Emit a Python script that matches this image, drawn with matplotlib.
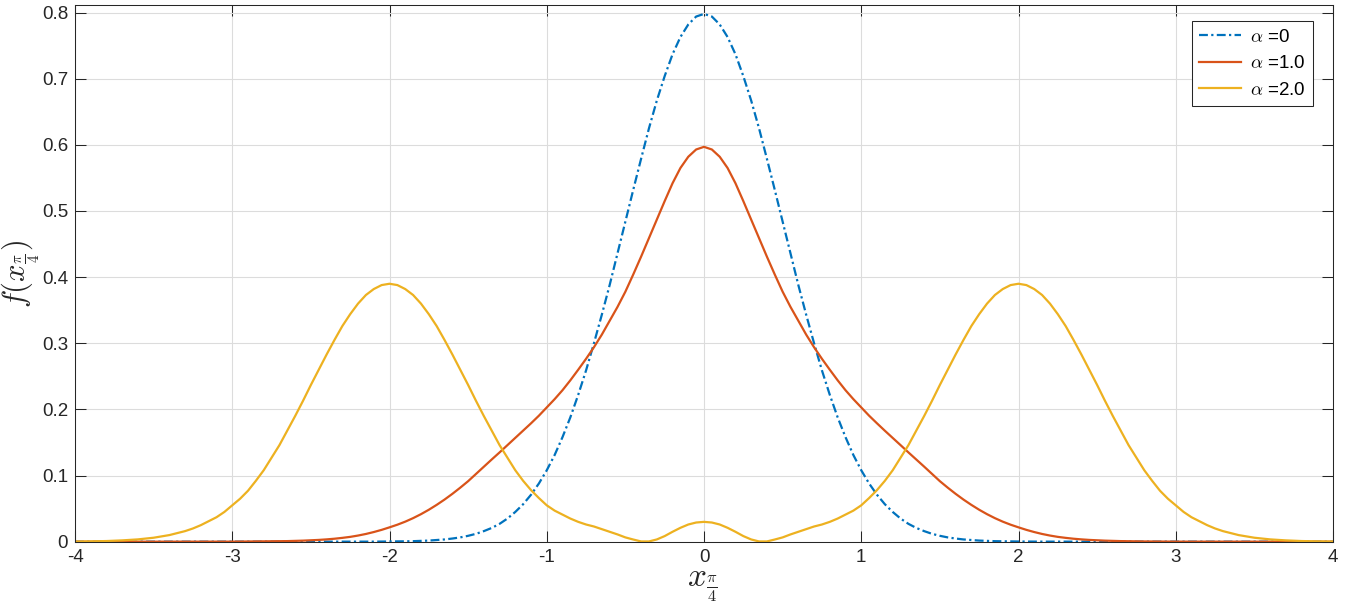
import matplotlib
matplotlib.use("Agg")
import matplotlib.pyplot as plt

plt.rcParams['font.family'] = ['Liberation Sans', 'DejaVu Sans']
plt.rcParams['mathtext.fontset'] = 'cm'
plt.rcParams['axes.unicode_minus'] = False

# sample positions (x_{pi/4})
x = [-4.00, -3.95, -3.90, -3.85, -3.80, -3.75, -3.70, -3.65, -3.60, -3.55,
     -3.50, -3.45, -3.40, -3.35, -3.30, -3.25, -3.20, -3.15, -3.10, -3.05,
     -3.00, -2.95, -2.90, -2.85, -2.80, -2.75, -2.70, -2.65, -2.60, -2.55,
     -2.50, -2.45, -2.40, -2.35, -2.30, -2.25, -2.20, -2.15, -2.10, -2.05,
     -2.00, -1.95, -1.90, -1.85, -1.80, -1.75, -1.70, -1.65, -1.60, -1.55,
     -1.50, -1.45, -1.40, -1.35, -1.30, -1.25, -1.20, -1.15, -1.10, -1.05,
     -1.00, -0.95, -0.90, -0.85, -0.80, -0.75, -0.70, -0.65, -0.60, -0.55,
     -0.50, -0.45, -0.40, -0.35, -0.30, -0.25, -0.20, -0.15, -0.10, -0.05,
     0.00,
     0.05, 0.10, 0.15, 0.20, 0.25, 0.30, 0.35, 0.40, 0.45, 0.50,
     0.55, 0.60, 0.65, 0.70, 0.75, 0.80, 0.85, 0.90, 0.95, 1.00,
     1.05, 1.10, 1.15, 1.20, 1.25, 1.30, 1.35, 1.40, 1.45, 1.50,
     1.55, 1.60, 1.65, 1.70, 1.75, 1.80, 1.85, 1.90, 1.95, 2.00,
     2.05, 2.10, 2.15, 2.20, 2.25, 2.30, 2.35, 2.40, 2.45, 2.50,
     2.55, 2.60, 2.65, 2.70, 2.75, 2.80, 2.85, 2.90, 2.95, 3.00,
     3.05, 3.10, 3.15, 3.20, 3.25, 3.30, 3.35, 3.40, 3.45, 3.50,
     3.55, 3.60, 3.65, 3.70, 3.75, 3.80, 3.85, 3.90, 3.95, 4.00]

# alpha = 0
f_alpha0 = [0, 0, 0, 0, 0, 0, 0, 0, 0, 0,
            0, 0, 0, 0, 0, 0, 0, 0, 0, 0,
            0, 0, 0, 0, 0, 0, 0, 0, 0, 0,
            0, 0, 0, 0, 0.0001, 0.0001, 0.0001, 0.0001, 0.0001, 0.0002,
            0.0003, 0.0004, 0.0006, 0.0008, 0.0012, 0.0017, 0.0025, 0.0034, 0.0048, 0.0065,
            0.0089, 0.0119, 0.016, 0.0208, 0.027, 0.035, 0.045, 0.0567, 0.071, 0.088,
            0.108, 0.131, 0.158, 0.188, 0.222, 0.259, 0.300, 0.343, 0.388, 0.436,
            0.484, 0.532, 0.579, 0.625, 0.667, 0.704, 0.737, 0.763, 0.782, 0.794,
            0.798,
            0.794, 0.782, 0.763, 0.737, 0.704, 0.667, 0.625, 0.579, 0.532, 0.484,
            0.436, 0.388, 0.343, 0.300, 0.259, 0.222, 0.188, 0.158, 0.131, 0.108,
            0.088, 0.071, 0.0567, 0.045, 0.035, 0.027, 0.0208, 0.016, 0.0119, 0.0089,
            0.0065, 0.0048, 0.0034, 0.0025, 0.0017, 0.0012, 0.0008, 0.0006, 0.0004, 0.0003,
            0.0002, 0.0001, 0.0001, 0.0001, 0.0001, 0.0001, 0, 0, 0, 0,
            0, 0, 0, 0, 0, 0, 0, 0, 0, 0,
            0, 0, 0, 0, 0, 0, 0, 0, 0, 0,
            0, 0, 0, 0, 0, 0, 0, 0, 0, 0]

# alpha = 1.0
f_alpha1 = [0, 0, 0, 0, 0, 0, 0, 0, 0, 0,
            0, 0, 0, 0, 0, 0, 0, 0.0001, 0.0001, 0.0001,
            0.0001, 0.0002, 0.0002, 0.0003, 0.0004, 0.0005, 0.0007, 0.0009, 0.0012, 0.0016,
            0.0021, 0.0027, 0.0035, 0.0045, 0.0058, 0.0073, 0.0093, 0.0117, 0.0146, 0.0179,
            0.0217, 0.0257, 0.0303, 0.0356, 0.0416, 0.0483, 0.0557, 0.0637, 0.0724, 0.0817,
            0.0915, 0.1025, 0.1135, 0.1243, 0.135, 0.146, 0.157, 0.1678, 0.179, 0.1905,
            0.203, 0.2155, 0.229, 0.244, 0.260, 0.2765, 0.294, 0.313, 0.334, 0.355,
            0.378, 0.404, 0.431, 0.459, 0.487, 0.515, 0.542, 0.565, 0.582, 0.593,
            0.597,
            0.593, 0.582, 0.565, 0.542, 0.515, 0.487, 0.459, 0.431, 0.404, 0.378,
            0.355, 0.334, 0.313, 0.294, 0.2765, 0.260, 0.244, 0.229, 0.2155, 0.203,
            0.1905, 0.179, 0.1678, 0.157, 0.146, 0.135, 0.1243, 0.1135, 0.1025, 0.0915,
            0.0817, 0.0724, 0.0637, 0.0557, 0.0483, 0.0416, 0.0356, 0.0303, 0.0257, 0.0217,
            0.0179, 0.0146, 0.0117, 0.0093, 0.0073, 0.0058, 0.0045, 0.0035, 0.0027, 0.0021,
            0.0016, 0.0012, 0.0009, 0.0007, 0.0005, 0.0004, 0.0003, 0.0002, 0.0002, 0.0001,
            0.0001, 0.0001, 0.0001, 0, 0, 0, 0, 0, 0, 0,
            0, 0, 0, 0, 0, 0, 0, 0, 0, 0]

# alpha = 2.0
f_alpha2 = [0.0002, 0.0003, 0.0005, 0.0007, 0.001, 0.0015, 0.002, 0.0027, 0.0035, 0.0047,
            0.006, 0.008, 0.010, 0.013, 0.016, 0.020, 0.025, 0.031, 0.037, 0.045,
            0.055, 0.065, 0.077, 0.092, 0.108, 0.127, 0.146, 0.168, 0.190, 0.213,
            0.237, 0.260, 0.283, 0.305, 0.326, 0.344, 0.360, 0.373, 0.382, 0.388,
            0.390, 0.388, 0.382, 0.373, 0.360, 0.344, 0.326, 0.305, 0.283, 0.260,
            0.237, 0.213, 0.190, 0.168, 0.146, 0.127, 0.108, 0.092, 0.078, 0.066,
            0.055, 0.047, 0.041, 0.035, 0.030, 0.026, 0.023, 0.019, 0.015, 0.011,
            0.0065, 0.0033, 0.0004, 0.0004, 0.0034, 0.0085, 0.015, 0.021, 0.026, 0.029,
            0.030,
            0.029, 0.026, 0.021, 0.015, 0.0085, 0.0034, 0.0004, 0.0004, 0.0033, 0.0065,
            0.011, 0.015, 0.019, 0.023, 0.026, 0.030, 0.035, 0.041, 0.047, 0.055,
            0.066, 0.078, 0.092, 0.108, 0.127, 0.146, 0.168, 0.190, 0.213, 0.237,
            0.260, 0.283, 0.305, 0.326, 0.344, 0.360, 0.373, 0.382, 0.388, 0.390,
            0.388, 0.382, 0.373, 0.360, 0.344, 0.326, 0.305, 0.283, 0.260, 0.237,
            0.213, 0.190, 0.168, 0.146, 0.127, 0.108, 0.092, 0.077, 0.065, 0.055,
            0.045, 0.037, 0.031, 0.025, 0.020, 0.016, 0.013, 0.010, 0.008, 0.006,
            0.0047, 0.0035, 0.0027, 0.002, 0.0015, 0.001, 0.0007, 0.0005, 0.0003, 0.0002]

series_labels = [r'$\alpha$ =0', r'$\alpha$ =1.0', r'$\alpha$ =2.0']
xtick_vals = [-4, -3, -2, -1, 0, 1, 2, 3, 4]
xtick_labels = ['-4', '-3', '-2', '-1', '0', '1', '2', '3', '4']
ytick_vals = [0, 0.1, 0.2, 0.3, 0.4, 0.5, 0.6, 0.7, 0.8]
ytick_labels = ['0', '0.1', '0.2', '0.3', '0.4', '0.5', '0.6', '0.7', '0.8']

W, H = 1346, 611
fig = plt.figure(figsize=(W / 100, H / 100), dpi=100)
L, R, T, B = 75, 1333, 5.3, 541.7
ax = fig.add_axes([L / W, (H - B) / H, (R - L) / W, (B - T) / H])

axcol = '#262626'
ax.plot(x, f_alpha0, color='#0072BD', lw=1.6, linestyle=(0, (4, 1.5, 1, 1.5)),
        label=series_labels[0])
ax.plot(x, f_alpha1, color='#D95319', lw=1.6, label=series_labels[1])
ax.plot(x, f_alpha2, color='#EDB120', lw=1.6, label=series_labels[2])

ax.set_xlim(-4, 4)
ax.set_ylim(0, 0.811)
ax.set_xticks(xtick_vals)
ax.set_xticklabels(xtick_labels)
ax.set_yticks(ytick_vals)
ax.set_yticklabels(ytick_labels)
ax.tick_params(direction='in', length=8, width=0.75, top=True, right=True,
               labelsize=13.5, colors=axcol, pad=5)
ax.grid(True, color='#dcdcdc', lw=0.8)
ax.set_axisbelow(True)
for s in ax.spines.values():
    s.set_linewidth(0.75)
    s.set_color(axcol)

ax.set_xlabel(r'$x_{\frac{\pi}{4}}$', fontsize=24, va='center', color=axcol)
ax.xaxis.set_label_coords((702.5 - L) / (R - L), (B - 586.5) / (B - T))
ax.set_ylabel(r'$f(x_{\frac{\pi}{4}})$', fontsize=22, va='center', color=axcol)
ax.yaxis.set_label_coords((20.5 - L) / (R - L), 0.5)

leg = ax.legend(loc='upper right', bbox_to_anchor=((1313 - L) / (R - L), (B - 21) / (B - T)),
                borderaxespad=0, fontsize=13.5, fancybox=False, framealpha=1,
                edgecolor=axcol, handlelength=2.2, handletextpad=0.5, labelspacing=0.5,
                borderpad=0.4)
leg.get_frame().set_linewidth(0.75)

fig.savefig('out.png', dpi=100)
